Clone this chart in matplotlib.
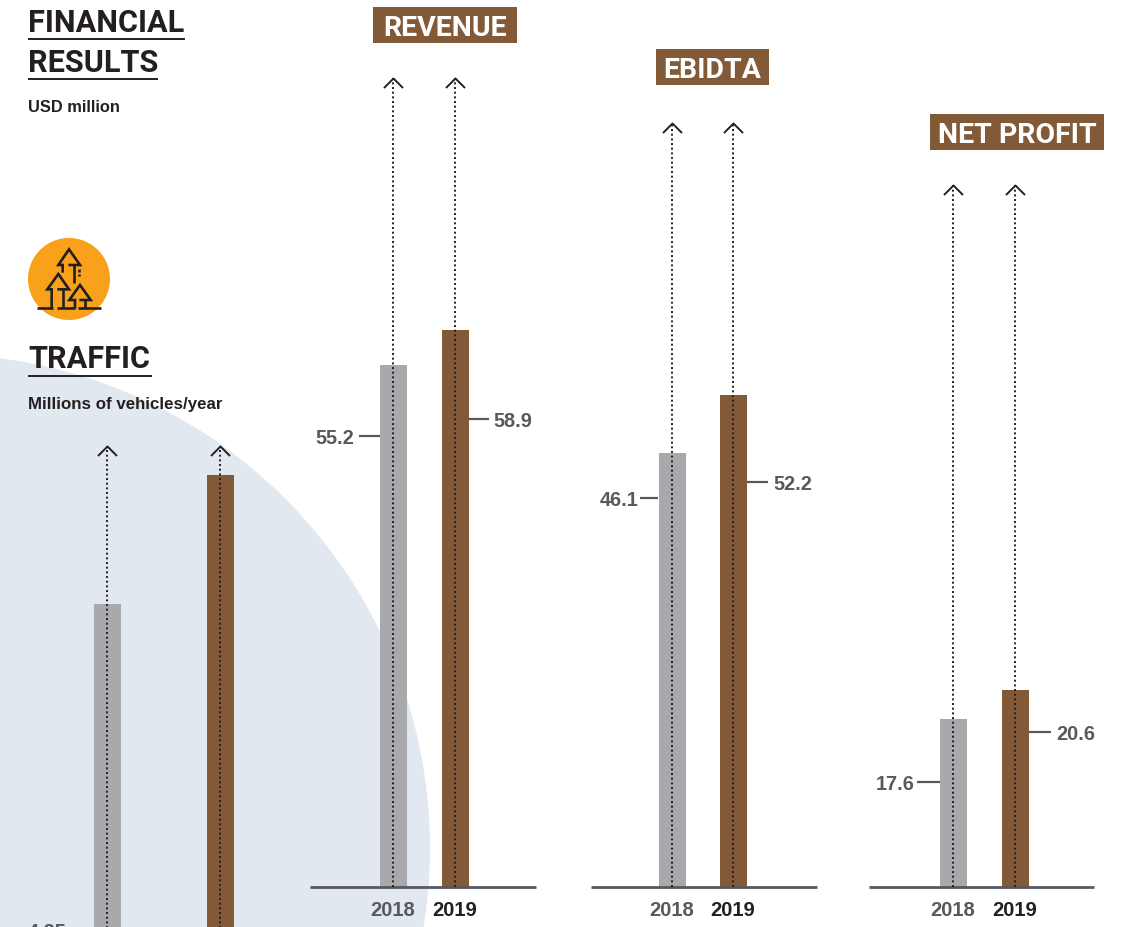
import matplotlib
matplotlib.use('Agg')
from matplotlib import pyplot as plt
from matplotlib.path import Path
from matplotlib.patches import Circle, Rectangle

W, H = 1129, 927

years = ['2018', '2019']
traffic = [4.35, 5.21]
revenue = [55.2, 58.9]
ebidta = [46.1, 52.2]
net_profit = [17.6, 20.6]

GREY = '#a7a9ac'
BROWN = '#825a38'
DARK = '#231f20'
MID = '#58595b'
ORANGE = '#f9a11b'
PALE = '#e1e8ef'
HEAD = ['Roboto', 'Liberation Sans', 'DejaVu Sans']
BODY = ['Liberation Sans', 'DejaVu Sans']

fig = plt.figure(figsize=(W / 100, H / 100), dpi=100)

# background axes in pixels for the page furniture
bg = fig.add_axes([0, 0, 1, 1], zorder=0)
bg.set_xlim(0, W)
bg.set_ylim(H, 0)
bg.axis('off')
bg.add_patch(Circle((-64, 848), 494, color=PALE, lw=0))


def heading(txt, x, y, x1, uy):
	bg.text(x, y, txt, family=HEAD, weight='bold', fontsize=22.1, color=DARK, va='baseline')
	bg.plot([x, x1], [uy, uy], color=DARK, lw=1.4, solid_capstyle='butt')


heading('FINANCIAL', 28, 32, 185, 39)
heading('RESULTS', 28, 72, 158, 79)
heading('TRAFFIC', 28, 368, 152, 376)
bg.text(28, 112, 'USD million', family=BODY, weight='bold', fontsize=11.8, color=DARK)
bg.text(28, 409, 'Millions of vehicles/year', family=BODY, weight='bold', fontsize=12.2, color=DARK)

# icon
bg.add_patch(Circle((69, 279), 41, color=ORANGE, lw=0))
icon = [
	[(188, 818), (188, 795), (175, 795), (207, 748), (240, 795), (205, 795)],
	[(222, 795), (222, 850)],
	[(238, 808), (238, 815)],
	[(238, 822), (238, 829)],
	[(155, 925), (155, 868), (142, 868), (175, 822), (207, 868), (172, 868)],
	[(190, 868), (190, 925)],
	[(225, 925), (225, 900), (208, 900), (240, 855), (272, 900), (238, 900)],
	[(255, 900), (255, 925)],
	[(112, 925), (160, 925)],
	[(172, 925), (225, 925)],
	[(235, 925), (302, 925)],
]
for seg in icon:
	bg.plot([p[0] / 3 for p in seg], [p[1] / 3 for p in seg], color=DARK, lw=1.9, solid_joinstyle='miter', solid_capstyle='butt')


def title_box(txt, x0, x1, y0, y1):
	bg.add_patch(Rectangle((x0, y0), x1 - x0, y1 - y0, color=BROWN, lw=0))
	bg.text((x0 + x1) / 2, (y0 + y1) / 2 + 0.5, txt, family=HEAD, weight='bold', fontsize=20.5, color='white', ha='center', va='center_baseline')


title_box('REVENUE', 373, 517, 7, 43)
title_box('EBIDTA', 656, 769, 49, 85)
title_box('NET PROFIT', 930, 1104, 114, 150)

chevron = Path([(-1, -1), (0, 0), (1, -1)], [Path.MOVETO, Path.LINETO, Path.LINETO])


def panel(values, x0, x1, c0, c1, base, scale, arrow_top, show_axis=True):
	# axes runs from the top of the page down to the baseline
	ax = fig.add_axes([x0 / W, 1 - base / H, (x1 - x0) / W, base / H], zorder=1)
	ax.patch.set_alpha(0)
	step = c1 - c0
	ax.set_xlim((x0 - c0) / step, (x1 - c0) / step)
	ax.set_ylim(0, base / scale)
	ax.bar([0, 1], values, width=27 / step, color=[GREY, BROWN], lw=0)
	top = (base - arrow_top) / scale
	for i in [0, 1]:
		ax.plot([i, i], [0, top], color=DARK, lw=1.4, ls=(0, (1, 1.4)), zorder=3)
		ax.plot([i], [top], marker=chevron, ms=13.7, mfc='none', mec=DARK, mew=1.4, zorder=3, clip_on=False)
	for s in ['left', 'right', 'top']:
		ax.spines[s].set_visible(False)
	ax.set_yticks([])
	if show_axis:
		ax.spines['bottom'].set_color(MID)
		ax.spines['bottom'].set_linewidth(2)
		ax.spines['bottom'].set_capstyle('butt')
		ax.set_xticks([0, 1], years, family=BODY, weight='bold', fontsize=14.5)
		ax.tick_params(axis='x', length=0, pad=10)
		ax.get_xticklabels()[0].set_color(MID)
		ax.get_xticklabels()[1].set_color(DARK)
	else:
		ax.spines['bottom'].set_visible(False)
		ax.set_xticks([])


panel(traffic, 40, 290, 107, 220, 1256, 149.9, 446, show_axis=False)
panel(revenue, 310, 536, 393, 455, 887, 9.45, 78)
panel(ebidta, 591, 817, 672, 733, 887, 9.42, 123)
panel(net_profit, 869, 1094, 953, 1015, 887, 9.55, 185)


def callout(val, x0, x1, y, tx, ha):
	bg.plot([x0, x1], [y, y], color=MID, lw=1.6, solid_capstyle='butt')
	bg.text(tx, y, val, family=BODY, weight='bold', fontsize=14.3, color=MID, ha=ha, va='center_baseline')


callout('55.2', 359, 380, 436, 354, 'right')
callout('58.9', 468, 489, 419, 493, 'left')
callout('46.1', 640, 658, 498, 638, 'right')
callout('52.2', 747, 768, 482, 773, 'left')
callout('17.6', 917, 940, 782, 915, 'right')
callout('20.6', 1029, 1051, 732, 1056, 'left')
bg.text(67, 931, '4.35', family=BODY, weight='bold', fontsize=14.3, color=MID, ha='right', va='center_baseline')

fig.savefig('out.png', dpi=100)
